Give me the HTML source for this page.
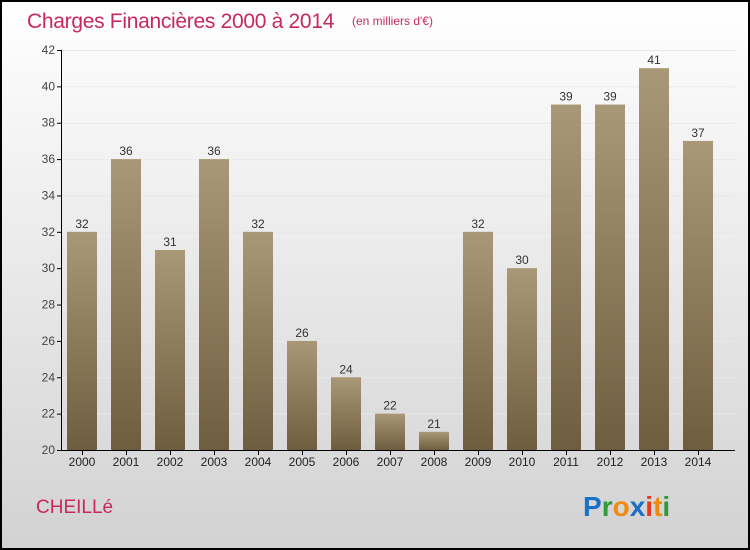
<!DOCTYPE html>
<html><head><meta charset="utf-8"><style>
body{margin:0}
#c{width:750px;height:550px;position:relative;overflow:hidden;font-family:"Liberation Sans",sans-serif}
</style></head><body>
<div id="c">
<svg id="s" width="750" height="550" xmlns="http://www.w3.org/2000/svg">
<defs>
<linearGradient id="bg" x1="0" y1="0" x2="0" y2="1"><stop offset="0" stop-color="#ffffff"/><stop offset="1" stop-color="#d2d2d2"/></linearGradient>
<linearGradient id="bar" x1="0" y1="0" x2="0" y2="1"><stop offset="0" stop-color="#a99877"/><stop offset="1" stop-color="#6f5d3f"/></linearGradient>
</defs>
<rect x="1" y="1" width="748" height="548" fill="url(#bg)" stroke="#000" stroke-width="2"/>
<text x="27" y="28" font-size="21" fill="#c8285f" letter-spacing="-0.3" font-weight="300">Charges Financières 2000 à 2014</text>
<text x="352" y="25" font-size="12" fill="#c8285f">(en milliers d'€)</text>
<text x="36" y="513" font-size="19" fill="#c8285f">CHEILLé</text>
<g font-size="28" font-weight="bold" font-family="'Liberation Sans',sans-serif">
<text x="583" y="516"><tspan fill="#1a6fc8">P</tspan><tspan fill="#2e9a3a">r</tspan><tspan fill="#f08a10">o</tspan><tspan fill="#1a6fc8">x</tspan><tspan fill="#e83a1a">i</tspan><tspan fill="#f08a10">t</tspan><tspan fill="#2e9a3a">i</tspan></text>
</g>
<g id="axes"></g>
<g id="bars"></g>
</svg>
</div>
<script>
const years=["2000","2001","2002","2003","2004","2005","2006","2007","2008","2009","2010","2011","2012","2013","2014"];
const values=[32,36,31,36,32,26,24,22,21,32,30,39,39,41,37];
const yTicks=[20,22,24,26,28,30,32,34,36,38,40,42];
const NS="http://www.w3.org/2000/svg";
const yMin=20,yMax=42,pTop=50,pBot=450,x0=82,step=44,bw=30;
function yS(v){return pBot-(v-yMin)/(yMax-yMin)*(pBot-pTop);}
function xS(i){return x0+i*step;}
function mk(t,a,p){const e=document.createElementNS(NS,t);for(const k in a)e.setAttribute(k,a[k]);p.appendChild(e);return e;}
const ax=document.getElementById('axes'),bs=document.getElementById('bars');
yTicks.forEach(v=>{
 const g=mk('line',{x1:62,y1:yS(v)+0.5,x2:735,y2:yS(v)+0.5,stroke:'#e8e8e8'},ax);
 
 
 mk('line',{x1:57,y1:yS(v)+0.5,x2:62,y2:yS(v)+0.5,stroke:'#000'},ax);
 const t=mk('text',{x:55,y:yS(v)+4,'font-size':12,fill:'#444','text-anchor':'end'},ax);
 t.textContent=v;
 
 
});
const yl=mk('line',{x1:61.5,y1:pTop,x2:61.5,y2:pBot,stroke:'#000'},ax);


const xl=mk('line',{x1:61,y1:pBot+0.5,x2:735,y2:pBot+0.5,stroke:'#000'},ax);


years.forEach((yr,i)=>{
 const r=mk('rect',{x:xS(i)-bw/2,y:yS(values[i]),width:bw,height:pBot-yS(values[i]),fill:'url(#bar)'},bs);
 
 
 const l=mk('text',{x:xS(i),y:yS(values[i])-4,'font-size':12,fill:'#333','text-anchor':'middle'},bs);
 l.textContent=values[i];
 
 
 mk('line',{x1:xS(i)+0.5,y1:pBot,x2:xS(i)+0.5,y2:pBot+5,stroke:'#000'},ax);
 const t=mk('text',{x:xS(i),y:pBot+16,'font-size':12,fill:'#222','text-anchor':'middle'},ax);
 t.textContent=yr;
 
 
});
</script>
</body></html>
